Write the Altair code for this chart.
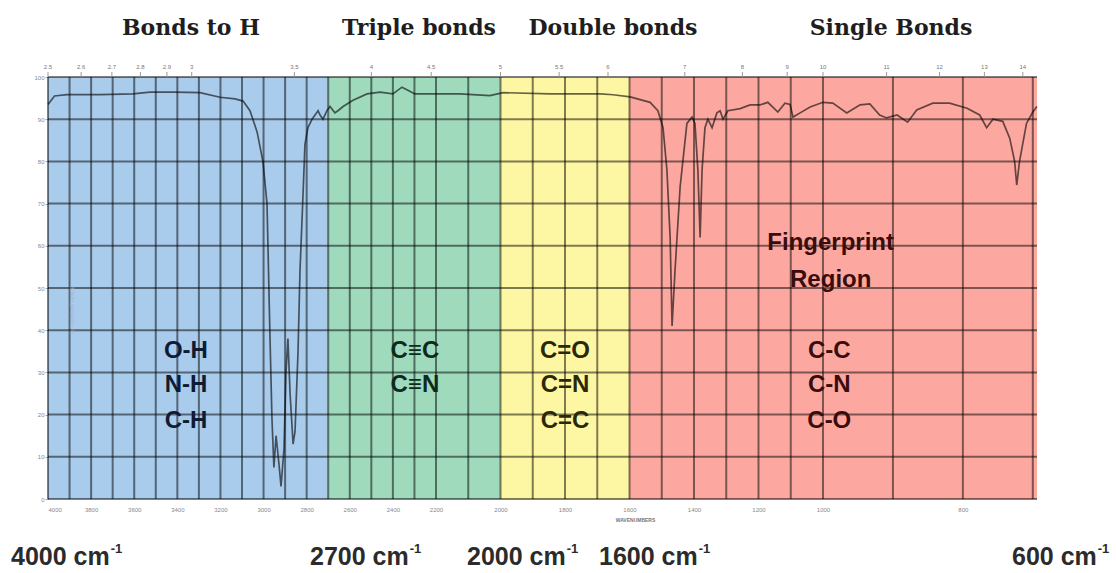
import altair as alt
import pandas as pd

# ---- IR spectrum trace (wavenumber in cm-1, % transmittance) ----
wavenumber = [
    4000, 3970, 3912, 3759, 3606, 3527, 3411, 3295, 3202, 3132, 3095, 3063,
    3030, 3003, 2984, 2970, 2961, 2952, 2942, 2928, 2919, 2905, 2896, 2887,
    2877, 2863, 2854, 2840, 2831, 2817, 2808, 2794, 2775, 2747, 2738, 2724,
    2706, 2692, 2669, 2655, 2631, 2585, 2520, 2460, 2400, 2358, 2335, 2298,
    2214, 2126, 2033, 1992, 1847, 1691, 1651, 1598, 1536, 1512, 1496, 1484,
    1474, 1468, 1459, 1443, 1422, 1406, 1397, 1388, 1381, 1375, 1366, 1357,
    1344, 1329, 1319, 1310, 1295, 1257, 1226, 1195, 1171, 1140, 1118, 1102,
    1093, 1071, 1040, 1000, 986, 966, 947, 933, 919, 909, 894, 879, 866, 843,
    819, 794, 776, 766, 757, 743, 733, 726, 723, 719, 709, 700, 694,
]
transmittance = [
    93.5, 95.5, 95.8, 95.8, 96.0, 96.4, 96.4, 96.3, 95.2, 94.8, 94.3, 92.0,
    87.0, 80.0, 70.0, 38.0, 19.0, 7.5, 15.0, 8.0, 3.0, 12.0, 30.0, 38.0,
    25.0, 13.0, 16.0, 35.0, 54.0, 72.0, 84.0, 88.0, 90.0, 92.0, 91.0, 90.0,
    92.0, 93.0, 91.5, 92.0, 93.0, 94.5, 96.0, 96.4, 96.0, 97.6, 97.0, 96.0,
    96.0, 96.0, 95.6, 96.3, 96.0, 96.0, 95.8, 95.3, 94.0, 92.0, 88.0, 78.0,
    62.0, 41.0, 54.0, 74.0, 89.0, 90.5, 89.0, 78.0, 62.0, 78.0, 88.0, 90.0,
    88.0, 91.5, 92.0, 90.0, 92.0, 92.5, 93.4, 93.4, 94.0, 91.7, 93.8, 93.5,
    90.5, 91.5, 92.9, 94.0, 93.8, 91.5, 93.4, 93.6, 91.0, 90.3, 91.0, 89.3,
    92.2, 93.8, 93.8, 92.6, 91.0, 88.0, 90.0, 89.5, 85.5, 80.0, 74.4, 80.0,
    89.0, 91.7, 93.0,
]

# ---- bond regions ----
region_names = ["Bonds to H", "Triple bonds", "Double bonds", "Single Bonds"]
region_lo = [4000, 2700, 2000, 1600]
region_hi = [2700, 2000, 1600, 694]
region_colors = ["#a9cbec", "#9fdabd", "#fdf6a2", "#fca8a0"]

# ---- axis ticks ----
bottom_ticks = [4000, 3800, 3600, 3400, 3200, 3000, 2800, 2600, 2400, 2200,
                2000, 1800, 1600, 1400, 1200, 1000, 800]
micron_ticks = [2.5, 2.6, 2.7, 2.8, 2.9, 3, 3.5, 4, 4.5, 5, 5.5, 6, 7, 8, 9,
                10, 11, 12, 13, 14]
grid_wn = list(range(4000, 699, -100))
grid_t = list(range(0, 101, 10))

# ---- bond labels inside the plot ----
bond_text = ["O-H", "N-H", "C-H", "C\u2261C", "C\u2261N", "C=O", "C=N", "C=C",
             "Fingerprint", "Region", "C-C", "C-N", "C-O"]
bond_wn = [3360, 3360, 3360, 2298, 2298, 1800, 1800, 1800, 989, 989, 991, 991, 991]
bond_t = [35, 27, 18.5, 35, 27, 35, 27, 18.5, 60.7, 52, 35, 27, 18.5]
bond_color = ["#0f1b33"] * 3 + ["#0d2a1c"] * 2 + ["#2a2808"] * 3 + ["#3a0d0d"] * 5

# ---- range markers under the chart ----
marker_num = ["4000", "2700", "2000", "1600", "600"]
marker_left = [11, 310, 467, 599, 1012]

header_center = [191, 419, 613, 891]

W, H = 989, 422
LEFT, TOP = 48, 77
MARK_FS = 25  # font size of the cm-1 markers

xscale = alt.Scale(domain=[4000, 2200, 1000, 694], range=[0, 388, 775, W])
yscale = alt.Scale(domain=[0, 100], nice=False, zero=True)

x_axis = alt.Axis(values=bottom_ticks, format="d", title="WAVENUMBERS",
                  titleFontSize=5, titleColor="#777", titleFont="Liberation Sans",
                  titleFontWeight="bold", titleX=587, titlePadding=5,
                  labelFontSize=6, labelColor="#888", labelFont="Liberation Sans",
                  labelPadding=7, ticks=False, domain=False, grid=False)
y_axis = alt.Axis(values=grid_t, format="d", title=None, labelFontSize=6,
                  labelColor="#888", labelFont="Liberation Sans",
                  tickSize=3, tickColor="#aaa", labelPadding=1,
                  domain=False, grid=False)

spec_df = pd.DataFrame({"idx": range(len(wavenumber)), "wn": wavenumber,
                        "t": transmittance})
reg_df = pd.DataFrame({"name": region_names, "wn": region_lo, "hi": region_hi})
vgrid_df = pd.DataFrame({"wn": grid_wn})
hgrid_df = pd.DataFrame({"t": grid_t})
micron_df = pd.DataFrame({
    "wn": [10000.0 / m for m in micron_ticks],
    "label": [f"{m:g}" for m in micron_ticks],
})
bond_df = pd.DataFrame({"text": bond_text, "wn": bond_wn, "t": bond_t,
                        "c": bond_color})
header_df = pd.DataFrame({"text": region_names,
                          "px": [c - LEFT for c in header_center]})
marker_df = pd.DataFrame({"num": marker_num,
                          "px": [m - LEFT for m in marker_left]})

X = alt.X("wn:Q", scale=xscale, axis=x_axis)
Y = alt.Y("t:Q", scale=yscale, axis=y_axis)

regions = alt.Chart(reg_df).mark_rect().encode(
    x=X,
    x2="hi:Q",
    y=alt.value(0),
    y2=alt.value(H),
    color=alt.Color("name:N", scale=alt.Scale(domain=region_names,
                                             range=region_colors), legend=None),
)

vgrid = alt.Chart(vgrid_df).mark_rule(color="black", opacity=0.5,
                                      strokeWidth=2).encode(
    x=X, y=alt.value(0), y2=alt.value(H),
)

hgrid = alt.Chart(hgrid_df).mark_rule(color="black", opacity=0.5,
                                      strokeWidth=2).encode(
    y=Y, x=alt.value(0), x2=alt.value(W),
)

spectrum = alt.Chart(spec_df).mark_line(color="black", opacity=0.6,
                                        strokeWidth=1.7).encode(
    x=X, y=Y, order="idx:Q",
)

micron_ticks_mark = alt.Chart(micron_df).mark_rule(color="#999",
                                                  strokeWidth=1).encode(
    x=X, y=alt.value(-5), y2=alt.value(0),
)

micron_labels = alt.Chart(micron_df).mark_text(
    fontSize=6, color="#777", font="Liberation Sans", baseline="bottom"
).encode(
    x=X, y=alt.value(-7), text="label:N",
)

bond_labels = alt.Chart(bond_df).mark_text(
    fontSize=24, fontWeight="bold", font="Liberation Sans", baseline="middle"
).encode(
    x=X, y=Y, text="text:N",
    color=alt.Color("c:N", scale=None),
)

trans_label = alt.Chart(pd.DataFrame({"text": ["% TRANSMITTANCE"]})).mark_text(
    fontSize=5, color="#9fb5cc", font="Liberation Sans", angle=270
).encode(
    x=alt.value(24), y=alt.value(233), text="text:N",
)

headers = alt.Chart(header_df).mark_text(
    fontSize=22, fontWeight="bold", font="DejaVu Serif", color="#1e1e1e",
    baseline="middle"
).encode(
    x=alt.X("px:Q", scale=None),
    y=alt.value(28 - TOP),
    text="text:N",
)

# "NNNN cm" with a small raised "-1"
marker_main = alt.Chart(marker_df).transform_calculate(
    label="datum.num + ' cm'"
).mark_text(
    fontSize=MARK_FS, fontWeight="bold", font="Liberation Sans", color="#2b2b2b",
    align="left", baseline="alphabetic"
).encode(
    x=alt.X("px:Q", scale=None),
    y=alt.value(565 - TOP),
    text="label:N",
)

digit_w = 0.556 * MARK_FS
marker_sup = alt.Chart(marker_df).transform_calculate(
    sup="'-1'",
    sx=f"datum.px + length(datum.num) * {digit_w} + {0.278 * MARK_FS}"
       f" + {0.556 * MARK_FS} + {0.889 * MARK_FS} + 1",
).mark_text(
    fontSize=13, fontWeight="bold", font="Liberation Sans", color="#2b2b2b",
    align="left", baseline="alphabetic"
).encode(
    x=alt.X("sx:Q", scale=None),
    y=alt.value(553 - TOP),
    text="sup:N",
)

chart = alt.layer(
    regions, vgrid, hgrid, spectrum, micron_ticks_mark, micron_labels,
    bond_labels, trans_label, headers, marker_main, marker_sup,
).resolve_scale(color="independent").properties(
    width=W,
    height=H,
    padding={"left": LEFT, "top": TOP, "right": 1116 - LEFT - W,
             "bottom": 573 - TOP - H},
    autosize=alt.AutoSizeParams(type="none"),
    background="white",
).configure_view(stroke=None)

chart.save("out.html", embed_options={"renderer": "svg", "actions": False})
